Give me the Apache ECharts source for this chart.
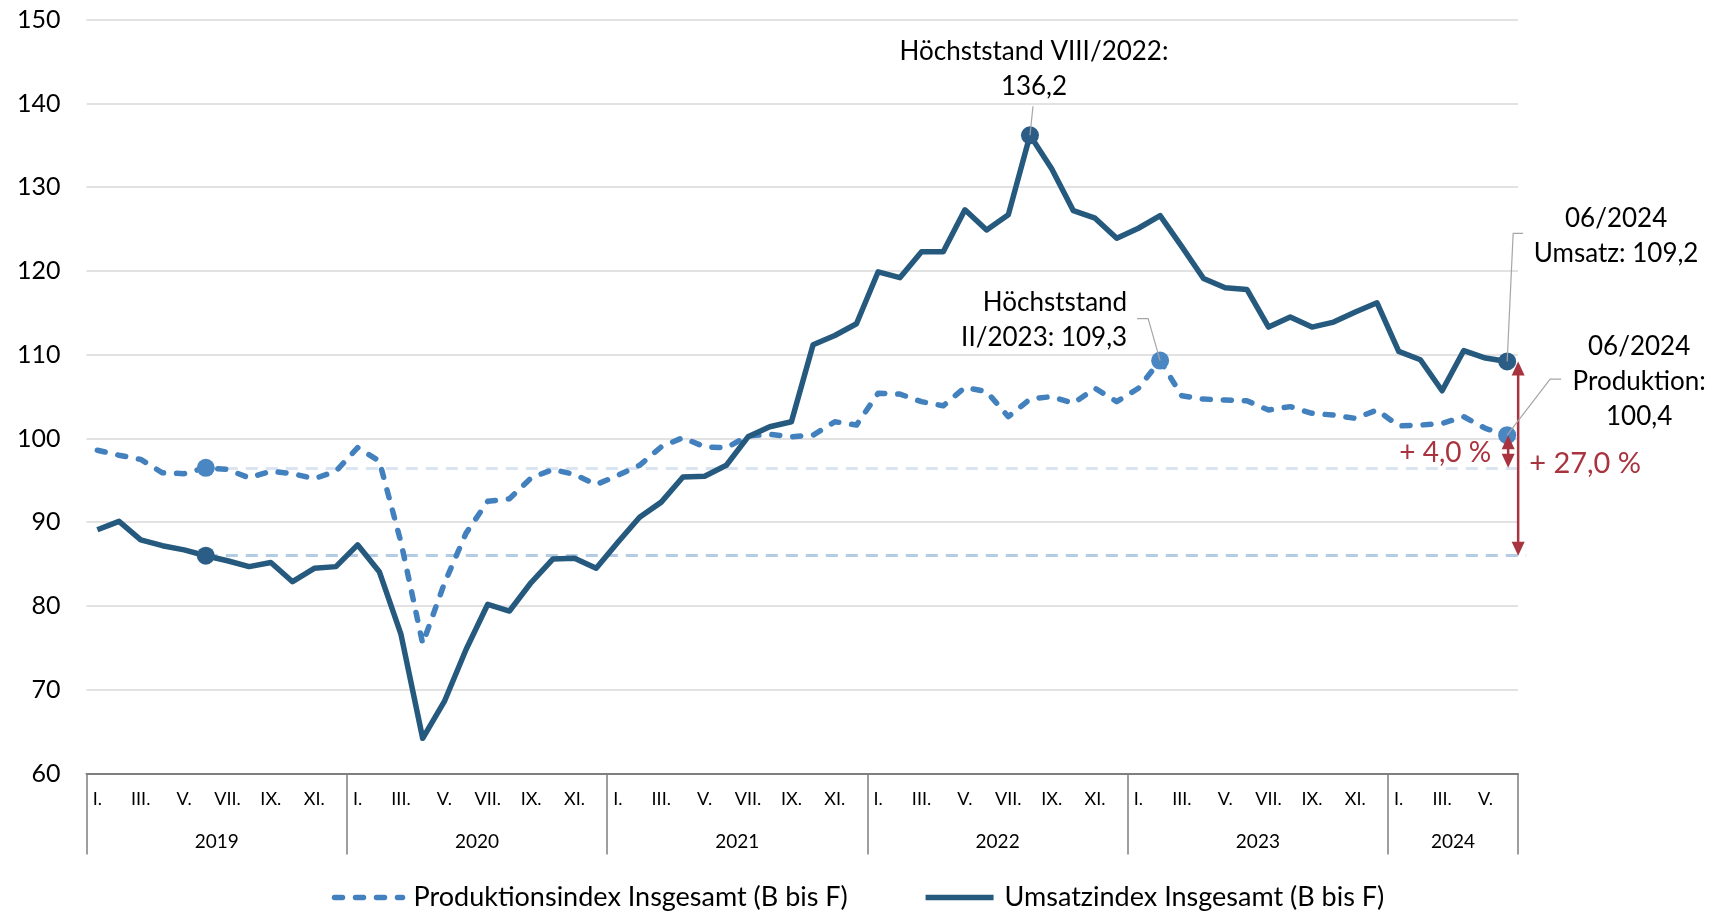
<!DOCTYPE html>
<html>
<head>
<meta charset="utf-8">
<title>Produktions- und Umsatzindex</title>
<script src="https://cdn.jsdelivr.net/npm/echarts@6/dist/echarts.min.js"></script>
<style>
  html, body { margin: 0; padding: 0; background: #fff; }
  #chart { width: 1716px; height: 911px; }
</style>
</head>
<body>
<div id="chart"></div>
<script>
// Zeitachse
var years = ['2019', '2020', '2021', '2022', '2023', '2024'];
var monthsPerYear = [12, 12, 12, 12, 12, 6];
var romanMonths = ['I.', 'II.', 'III.', 'IV.', 'V.', 'VI.', 'VII.', 'VIII.', 'IX.', 'X.', 'XI.', 'XII.'];

// Umsatzindex Insgesamt (B bis F)
var umsatz = [
  89.1, 90.1, 87.9, 87.2, 86.7, 86.0, 85.4, 84.7, 85.2, 82.9, 84.5, 84.7,
  87.3, 84.1, 76.6, 64.2, 68.6, 74.8, 80.2, 79.4, 82.8, 85.6, 85.7, 84.5,
  87.6, 90.6, 92.4, 95.4, 95.5, 96.8, 100.2, 101.4, 102.0, 111.2, 112.3, 113.7,
  119.9, 119.2, 122.3, 122.3, 127.3, 124.9, 126.7, 136.2, 132.2, 127.2, 126.3, 123.9,
  125.1, 126.6, 122.9, 119.1, 118.0, 117.8, 113.3, 114.5, 113.3, 113.9, 115.1, 116.2,
  110.4, 109.4, 105.7, 110.5, 109.6, 109.2
];

// Produktionsindex Insgesamt (B bis F)
var produktion = [
  98.6, 98.0, 97.5, 95.9, 95.8, 96.5, 96.3, 95.3, 96.1, 95.8, 95.2, 96.1,
  98.9, 97.3, 87.6, 75.5, 82.7, 88.7, 92.5, 92.8, 95.3, 96.3, 95.7, 94.5,
  95.6, 96.8, 99.0, 100.1, 99.0, 98.9, 100.3, 100.5, 100.2, 100.4, 102.0, 101.6,
  105.4, 105.3, 104.4, 103.9, 106.1, 105.6, 102.6, 104.7, 105.0, 104.2, 106.0, 104.4,
  106.0, 109.3, 105.1, 104.7, 104.6, 104.5, 103.4, 103.8, 103.0, 102.8, 102.4, 103.4,
  101.5, 101.6, 101.8, 102.6, 101.2, 100.4
];

// hervorgehobene Punkte (Index in den Reihen)
var baseIdx = 5;          // 06/2019
var peakUmsatzIdx = 43;   // VIII/2022
var peakProdIdx = 49;     // II/2023
var lastIdx = umsatz.length - 1;

var FONT = 'Lato, "Open Sans", sans-serif';
var COL_UMSATZ = '#255A7E';
var COL_PROD = '#4380BE';
var COL_RED = '#A8343F';

// Kategorien bauen
var categories = [];
var monthOfCat = [];
var yearMidCat = {};
years.forEach(function(y, yi) {
  var start = categories.length;
  for (var m = 0; m < monthsPerYear[yi]; m++) {
    categories.push(y + '-' + (m + 1));
    monthOfCat.push(m);
  }
  yearMidCat[start + Math.floor((monthsPerYear[yi] - 1) / 2)] = y;
});

function fmt(v) {
  return v.toFixed(1).replace('.', ',');
}

var chart = echarts.init(document.getElementById('chart'));

chart.setOption({
  animation: false,
  grid: {left: 86.5, right: 198, top: 19.7, bottom: 137.5},
  legend: {
    data: ['Produktionsindex Insgesamt (B bis F)', 'Umsatzindex Insgesamt (B bis F)'],
    top: 879,
    left: 'center',
    itemWidth: 68,
    itemHeight: 14,
    itemGap: 75,
    itemStyle: {opacity: 0},
    lineStyle: {width: 5.5},
    textStyle: {fontFamily: FONT, fontSize: 27, color: '#000', padding: [0, 0, 0, 6]}
  },
  xAxis: [
    {
      type: 'category',
      data: categories,
      boundaryGap: true,
      axisLine: {lineStyle: {color: '#7f7f7f', width: 2}},
      axisTick: {
        show: true,
        length: 81,
        interval: function(idx) { return idx % 12 === 0; },
        lineStyle: {color: '#7f7f7f', width: 1.5}
      },
      axisLabel: {
        interval: function(idx) { return monthOfCat[idx] % 2 === 0; },
        formatter: function(v, idx) { return romanMonths[monthOfCat[idx]]; },
        margin: 17,
        fontFamily: FONT,
        fontSize: 18,
        color: '#000'
      },
      splitLine: {show: false}
    },
    {
      type: 'category',
      data: categories,
      position: 'bottom',
      boundaryGap: true,
      axisLine: {show: false},
      axisTick: {show: false},
      axisLabel: {
        interval: function(idx) { return yearMidCat[idx] !== undefined; },
        formatter: function(v, idx) { return '{y|' + yearMidCat[idx] + '}'; },
        margin: 59,
        rich: {y: {fontFamily: FONT, fontSize: 19, color: '#000', padding: [0, 0, 0, 22]}}
      }
    }
  ],
  yAxis: {
    type: 'value',
    min: 60,
    max: 150,
    interval: 10,
    axisLine: {show: false},
    axisTick: {show: false},
    axisLabel: {fontFamily: FONT, fontSize: 25, color: '#000', margin: 26},
    splitLine: {lineStyle: {color: '#d9d9d9', width: 1.5}}
  },
  series: [
    {
      name: 'Produktionsindex Insgesamt (B bis F)',
      type: 'line',
      data: produktion,
      symbol: 'none',
      z: 3,
      lineStyle: {color: COL_PROD, width: 5.5, type: [8, 13], cap: 'round', join: 'round'},
      itemStyle: {color: COL_PROD},
      markPoint: {
        symbol: 'circle',
        symbolSize: 18,
        label: {show: false},
        itemStyle: {color: '#4A86C2'},
        data: [baseIdx, peakProdIdx, lastIdx].map(function(i) {
          return {coord: [i, produktion[i]]};
        })
      }
    },
    {
      name: 'Umsatzindex Insgesamt (B bis F)',
      type: 'line',
      data: umsatz,
      symbol: 'none',
      z: 3,
      lineStyle: {color: COL_UMSATZ, width: 5.5, join: 'round'},
      itemStyle: {color: COL_UMSATZ},
      markPoint: {
        symbol: 'circle',
        symbolSize: 18,
        label: {show: false},
        itemStyle: {color: '#2C5D86'},
        data: [baseIdx, peakUmsatzIdx, lastIdx].map(function(i) {
          return {coord: [i, umsatz[i]]};
        })
      }
    }
  ]
});

// Hilfslinien, Pfeile und Beschriftungen an den Datenpunkten ausrichten
function px(i, v) {
  return chart.convertToPixel({xAxisIndex: 0, yAxisIndex: 0}, [i, v]);
}

function arrow(x, yTop, yBottom) {
  var head = 14, half = 6.5;
  return [
    {type: 'line', z: 10, shape: {x1: x, y1: yTop + head - 2, x2: x, y2: yBottom - head + 2},
      style: {stroke: COL_RED, lineWidth: 2.5}},
    {type: 'polygon', z: 10, shape: {points: [[x, yTop], [x - half, yTop + head], [x + half, yTop + head]]},
      style: {fill: COL_RED}},
    {type: 'polygon', z: 10, shape: {points: [[x, yBottom], [x - half, yBottom - head], [x + half, yBottom - head]]},
      style: {fill: COL_RED}}
  ];
}

function note(text, x, y, align) {
  return {type: 'text', z: 10, style: {
    text: text, x: x, y: y, align: align, verticalAlign: 'bottom',
    fill: '#000', fontFamily: FONT, fontSize: 26, lineHeight: 35
  }};
}

function leader(points) {
  return {type: 'polyline', z: 10, shape: {points: points},
    style: {stroke: '#a6a6a6', lineWidth: 1.2, fill: null}};
}

var pBaseU = px(baseIdx, umsatz[baseIdx]);
var pBaseP = px(baseIdx, produktion[baseIdx]);
var pLastU = px(lastIdx, umsatz[lastIdx]);
var pLastP = px(lastIdx, produktion[lastIdx]);
var pPeakU = px(peakUmsatzIdx, umsatz[peakUmsatzIdx]);
var pPeakP = px(peakProdIdx, produktion[peakProdIdx]);
var refEndX = pLastU[0] + 19;

var pctU = (umsatz[lastIdx] / umsatz[baseIdx] - 1) * 100;
var pctP = (produktion[lastIdx] / produktion[baseIdx] - 1) * 100;

var bigX = pLastU[0] + 11;
var smallX = pLastP[0] + 1;

var graphics = []
  .concat(arrow(bigX, pLastU[1], pBaseU[1]))
  .concat(arrow(smallX, pLastP[1], pBaseP[1]))
  .concat([
    note('Höchststand VIII/2022:\n' + fmt(umsatz[peakUmsatzIdx]), pPeakU[0] + 4, pPeakU[1] - 31, 'center'),
    leader([[pPeakU[0] + 3, pPeakU[1] - 29], [pPeakU[0], pPeakU[1]]]),
    note('Höchststand\nII/2023: ' + fmt(produktion[peakProdIdx]), pPeakP[0] - 33, pPeakP[1] - 5, 'right'),
    leader([[pPeakP[0] - 23, pPeakP[1] - 42], [pPeakP[0] - 12, pPeakP[1] - 42], [pPeakP[0], pPeakP[1]]]),
    note('06/2024\nUmsatz: ' + fmt(umsatz[lastIdx]), pLastU[0] + 109, pLastU[1] - 90, 'center'),
    leader([[pLastU[0] + 16, pLastU[1] - 128], [pLastU[0] + 6, pLastU[1] - 128], [pLastU[0], pLastU[1]]]),
    note('06/2024\nProduktion:\n' + fmt(produktion[lastIdx]), pLastP[0] + 132, pLastP[1] - 1, 'center'),
    leader([[pLastP[0] + 54, pLastP[1] - 56], [pLastP[0] + 43, pLastP[1] - 56], [pLastP[0], pLastP[1]]]),
    {type: 'text', z: 10, style: {
      text: '+ ' + fmt(pctP) + ' %', x: smallX - 17, y: (pLastP[1] + pBaseP[1]) / 2 + 2,
      align: 'right', verticalAlign: 'middle', fill: COL_RED, fontFamily: FONT, fontSize: 28
    }},
    {type: 'text', z: 10, style: {
      text: '+ ' + fmt(pctU) + ' %', x: bigX + 11, y: (pLastU[1] + pBaseU[1]) / 2 + 5,
      align: 'left', verticalAlign: 'middle', fill: COL_RED, fontFamily: FONT, fontSize: 29
    }}
  ]);

chart.setOption({
  graphic: graphics,
  series: [
    {
      markLine: {
        silent: true, symbol: 'none', z: 1,
        label: {show: false},
        lineStyle: {color: '#dae5f1', width: 3, type: [12, 8]},
        data: [[{coord: [baseIdx, produktion[baseIdx]]}, {x: refEndX, y: pBaseP[1]}]]
      }
    },
    {
      markLine: {
        silent: true, symbol: 'none', z: 1,
        label: {show: false},
        lineStyle: {color: '#b4cbe4', width: 3, type: [12, 8]},
        data: [[{coord: [baseIdx, umsatz[baseIdx]]}, {x: refEndX, y: pBaseU[1]}]]
      }
    }
  ]
});

window.addEventListener('resize', function() {
  chart.resize();
});
</script>
</body>
</html>
